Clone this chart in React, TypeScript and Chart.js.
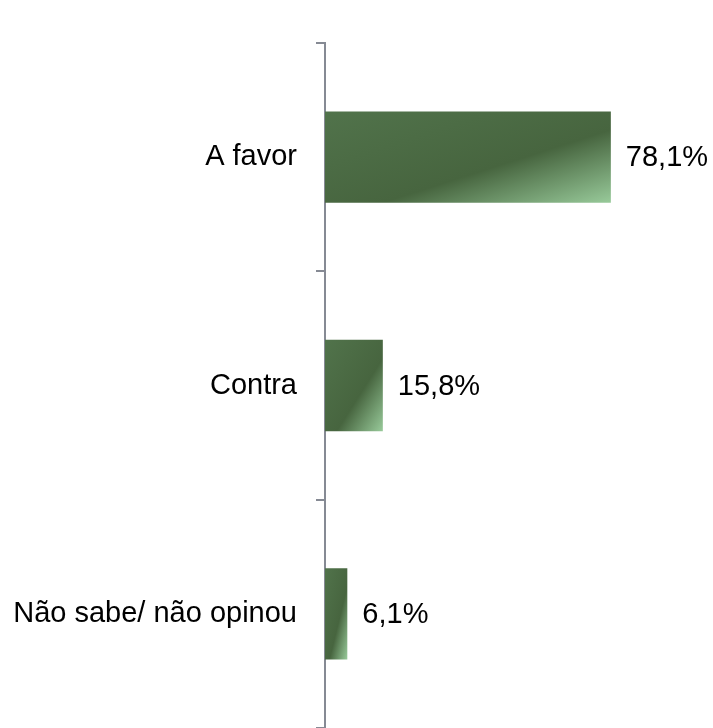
import React, { useEffect, useRef } from "react";
import { Chart, registerables } from "chart.js";

Chart.register(...registerables);

const categories: string[] = ["A favor", "Contra", "Não sabe/ não opinou"];
const values: number[] = [78.1, 15.8, 6.1];
const xMax = 100;

const FONT = '"Liberation Sans", Arial, sans-serif';
const AXIS_COLOR = "#868a94";
const BAR_PCT = 0.4;

function makeGradient(chart: any, index: number, value: number) {
  const xs = chart.scales && chart.scales.x;
  const ys = chart.scales && chart.scales.y;
  if (!xs || !ys || !chart.ctx) return "#4b6a44";
  const cat = (ys.bottom - ys.top) / categories.length;
  const h = cat * BAR_PCT;
  const x0 = xs.getPixelForValue(0);
  const x1 = xs.getPixelForValue(value);
  const w = x1 - x0;
  const yc = ys.getPixelForValue(index);
  const y0 = yc - h / 2;
  const nums = [cat, h, x0, x1, w, yc, y0];
  if (nums.some((n) => !Number.isFinite(n)) || w <= 0 || h <= 0) return "#4b6a44";
  const s = (2 * w * h) / (w * w + h * h);
  const g = chart.ctx.createLinearGradient(x0, y0, x0 + s * h, y0 + s * w);
  g.addColorStop(0, "#51734b");
  g.addColorStop(0.6, "#47653f");
  g.addColorStop(1, "#98ca9a");
  return g;
}

const valueLabels = {
  id: "valueLabels",
  afterDatasetsDraw(chart: any) {
    const ctx = chart.ctx;
    const meta = chart.getDatasetMeta(0);
    ctx.save();
    ctx.font = `29px ${FONT}`;
    ctx.fillStyle = "#000";
    ctx.textBaseline = "middle";
    ctx.textAlign = "left";
    meta.data.forEach((bar: any, i: number) => {
      const txt = values[i].toFixed(1).replace(".", ",") + "%";
      ctx.fillText(txt, bar.x + 15, bar.y + 1);
    });
    ctx.restore();
  },
};

export default function App() {
  const ref = useRef<HTMLCanvasElement | null>(null);
  useEffect(() => {
    if (!ref.current) return;
    const chart = new Chart(ref.current, {
      type: "bar",
      data: {
        labels: categories,
        datasets: [
          {
            data: values,
            backgroundColor: (c: any) => makeGradient(c.chart, c.dataIndex, values[c.dataIndex] ?? 0),
            borderWidth: 0,
            barPercentage: BAR_PCT,
            categoryPercentage: 1,
          },
        ],
      },
      options: {
        indexAxis: "y",
        animation: false,
        responsive: false,
        maintainAspectRatio: false,
        layout: { padding: { top: 43, right: 22, bottom: -3, left: 0 } },
        plugins: {
          legend: { display: false },
          tooltip: { enabled: false },
        },
        scales: {
          x: {
            display: false,
            min: 0,
            max: xMax,
          },
          y: {
            afterFit: (scale: any) => {
              scale.width = 325;
              scale.paddingTop = 0;
              scale.paddingBottom = 0;
            },
            grid: {
              offset: true,
              drawOnChartArea: false,
              drawTicks: true,
              tickLength: 9,
              color: AXIS_COLOR,
              lineWidth: 2,
            },
            border: { display: true, color: AXIS_COLOR, width: 2 },
            ticks: {
              color: "#000",
              padding: 19,
              font: { family: FONT, size: 29 },
            },
          },
        },
      },
      plugins: [valueLabels],
    });
    return () => chart.destroy();
  }, []);
  return (
    <div style={{ position: "fixed", left: 0, top: 0, width: 713, height: 728, background: "#fff" }}>
      <canvas ref={ref} width={713} height={728} style={{ width: 713, height: 728, display: "block" }} />
    </div>
  );
}
